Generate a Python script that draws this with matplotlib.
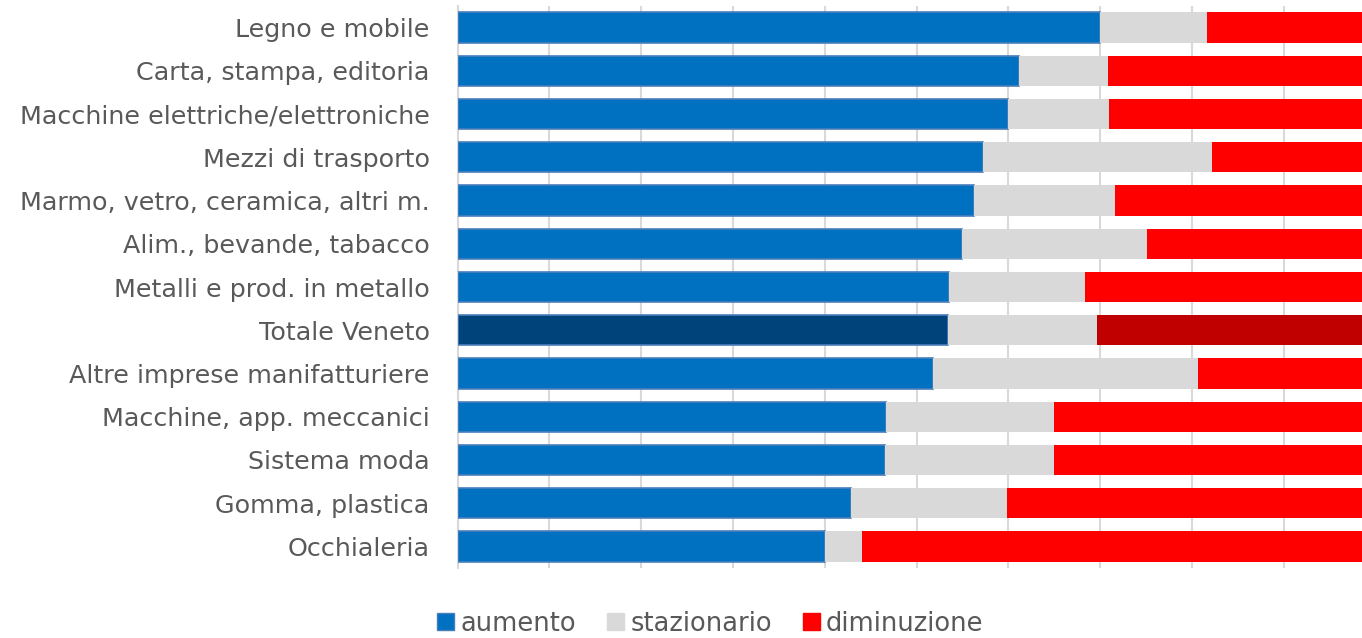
import numpy as np
import matplotlib.pyplot as plt
from matplotlib.patches import Patch

plt.rcParams['font.family'] = ['DejaVu Sans']

categories = ['Legno e mobile', 'Carta, stampa, editoria', 'Macchine elettriche/elettroniche',
              'Mezzi di trasporto', 'Marmo, vetro, ceramica, altri m.', 'Alim., bevande, tabacco',
              'Metalli e prod. in metallo', 'Totale Veneto', 'Altre imprese manifatturiere',
              'Macchine, app. meccanici', 'Sistema moda', 'Gomma, plastica', 'Occhialeria']
aumento = [70.0, 61.2, 60.0, 57.2, 56.3, 55.0, 53.5, 53.4, 51.8, 46.7, 46.6, 42.9, 40.0]
stazionario = [11.6, 9.7, 11.0, 25.0, 15.3, 20.1, 14.9, 16.3, 28.9, 18.3, 18.4, 17.0, 4.1]
diminuzione = [18.4, 29.1, 29.0, 17.8, 28.4, 24.9, 31.6, 30.3, 19.3, 35.0, 35.0, 40.1, 55.9]
series_names = ['aumento', 'stazionario', 'diminuzione']

W, H = 1362, 638
fig = plt.figure(figsize=(W / 100, H / 100), dpi=100)
# plot area runs a little past the right edge, as in the reference
ax = fig.add_axes([457.5 / W, 1 - 568 / H, 918 / W, (568 - 6) / H])

n = len(categories)
y = np.arange(n)
blue = ['#0070c0'] * n
red = ['#ff0000'] * n
tot = categories.index('Totale Veneto')
blue[tot] = '#00427a'
red[tot] = '#c00000'

ax.barh(y, aumento, height=0.7, color=blue, edgecolor='#4a7ebb', linewidth=1.2, zorder=3)
ax.barh(y, stazionario, left=aumento, height=0.7, color='#d9d9d9', zorder=3)
left2 = np.array(aumento) + np.array(stazionario)
ax.barh(y, diminuzione, left=left2, height=0.7, color=red, zorder=3)

ax.set_xlim(0, 100)
ax.set_ylim(n - 0.5, -0.5)
ax.set_xticks(np.arange(0, 101, 10))
ax.xaxis.grid(True, color='#d9d9d9', linewidth=1.5, zorder=0)
ax.tick_params(axis='x', length=0, labelbottom=False)
ax.set_yticks(y)
ax.set_yticklabels(categories, fontsize=18.3, color='#595959')
ax.tick_params(axis='y', length=0, pad=20)
for s in ['top', 'right', 'bottom']:
    ax.spines[s].set_visible(False)
ax.spines['left'].set_color('#d9d9d9')
ax.spines['left'].set_linewidth(1.5)

handles = [Patch(facecolor='#0070c0', edgecolor='#4a7ebb'), Patch(color='#d9d9d9'),
           Patch(color='#ff0000')]
fig.legend(handles, series_names, loc='lower center', bbox_to_anchor=(0.5215, -0.034), ncol=3,
           frameon=False, fontsize=18.5, labelcolor='#595959', handlelength=0.66,
           handleheight=0.66, handletextpad=0.25, columnspacing=1.2)

fig.savefig('out.png', dpi=100)
